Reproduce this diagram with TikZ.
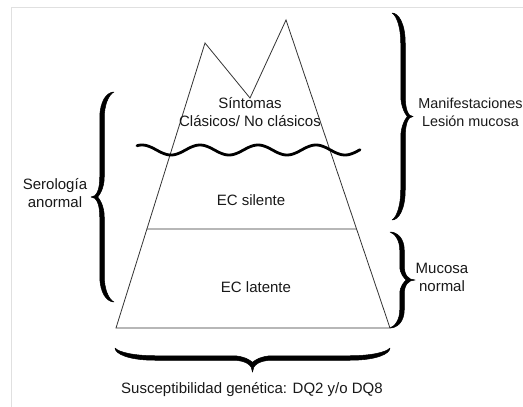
\documentclass[tikz,border=0pt]{standalone}
\usepackage{fontspec}
\setmainfont{Liberation Sans}
\usetikzlibrary{calc}
\tikzset{
  outline/.style={draw=black!80, line width=0.8pt, line join=miter},
  wave/.style={draw=black, line width=2.8pt, line cap=round},
  lbl/.style={font=\fontsize{15}{18}\selectfont, align=center, inner sep=0pt, text=black!90},
  bracestyle/.style={fill=black, draw=black, line width=0.5pt, line join=round},
  frame/.style={draw=black!12, line width=1pt}
}
% #1 H (half length), #2 W (depth to tip), #3 s (stem), #4 t (thickness), #5 c1 (end curl), #6 c2 (middle curl)
\newcommand{\bracefill}[6]{%
 \filldraw[bracestyle]
 (0,-#1) .. controls ({0.6*#3},-#1) and ({#3+#4/2},{-#1+0.35*#5}) .. ({#3+#4/2},{-#1+#5})
 -- ({#3+#4/2},{-#6})
 .. controls ({#3+#4/2},{-0.35*#6}) and ({#3+0.5*(#2-#3)},0) .. (#2,0)
 .. controls ({#3+0.5*(#2-#3)},0) and ({#3+#4/2},{0.35*#6}) .. ({#3+#4/2},{#6})
 -- ({#3+#4/2},{#1-#5})
 .. controls ({#3+#4/2},{#1-0.35*#5}) and ({0.6*#3},#1) .. (0,#1)
 .. controls ({0.45*#3},{#1-0.1*#5}) and ({#3-#4/2},{#1-0.5*#5}) .. ({#3-#4/2},{#1-#5})
 -- ({#3-#4/2},{#6})
 .. controls ({#3-#4/2},{0.45*#6}) and ({#3+#4/2},{0.12*#6}) .. ({#3+#4/2+2},0)
 .. controls ({#3+#4/2},{-0.12*#6}) and ({#3-#4/2},{-0.45*#6}) .. ({#3-#4/2},{-#6})
 -- ({#3-#4/2},{-#1+#5})
 .. controls ({#3-#4/2},{-#1+0.5*#5}) and ({0.45*#3},{-#1+0.1*#5}) .. (0,-#1) -- cycle;
}
\begin{document}
\begin{tikzpicture}[x=1pt,y=-1pt]
\useasboundingbox (0,0) rectangle (523,407);
\fill[white] (0,0) rectangle (523,407);
% frame
\draw[frame] (11,407) -- (11,7) -- (523,7);
% pyramid
\coordinate (bl) at (116,328);
\coordinate (lp) at (205,43);
\coordinate (vy) at (250,98);
\coordinate (rp) at (286,20);
\coordinate (br) at (390,328);
\draw[outline] (bl) -- (lp) -- (vy) -- (rp) -- (br) -- cycle;
\coordinate (ml) at ($(bl)!0.3474!(lp)$);
\coordinate (mr) at ($(br)!0.3214!(rp)$);
\draw[outline] (ml) -- (mr);
% wave
\draw[wave] plot[domain=137:360, samples=150, smooth] (\x, {150-5*cos(6.2069*(\x-142))});
% braces
\begin{scope}[shift={(392,116.5)}]
  \bracefill{103.5}{21}{11}{4.5}{30}{21}
\end{scope}
\begin{scope}[shift={(390,280)}]
  \bracefill{48}{25}{12}{4.5}{18}{14}
\end{scope}
\begin{scope}[shift={(114,197)}, xscale=-1]
  \bracefill{105}{23}{12}{4.5}{26}{20}
\end{scope}
\begin{scope}[shift={(252.5,348)}, rotate=-90]
  \bracefill{137.5}{24}{10}{4.5}{40}{20}
\end{scope}
% labels
\node[lbl] (sint) at (250,112) {Síntomas\\Clásicos/ No clásicos};
\node[lbl] (sil) at (251,200) {EC silente};
\node[lbl] (lat) at (256,287) {EC latente};
\node[lbl] (sero) at (55,193) {Serología\\anormal};
\node[lbl, font=\fontsize{14.4}{18}\selectfont] (manif) at (470.5,112) {Manifestaciones\\Lesión mucosa};
\node[lbl] (muc) at (442,277) {Mucosa\\normal};
\node[lbl] (susc) at (252,390) {Susceptibilidad genética: DQ2 y/o DQ8};
\end{tikzpicture}
\end{document}
